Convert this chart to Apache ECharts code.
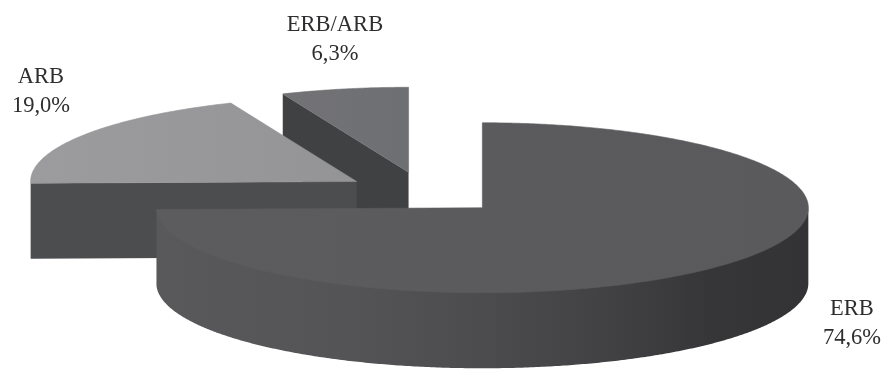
<!DOCTYPE html>
<html>
<head>
<meta charset="utf-8">
<style>html,body{margin:0;padding:0;background:#fff}#chart{width:887px;height:369px}</style>
<script src="https://cdn.jsdelivr.net/npm/echarts@6/dist/echarts.min.js"></script>
</head>
<body>
<div id="chart"></div>
<script>
// Share of each treatment group, in percent
const categories = ['ERB', 'ARB', 'ERB/ARB'];
const shares = [74.6, 19.0, 6.3];

// Pie geometry: centre, ellipse radii, wall height and how far slices are pulled out
const pie = { cx: 424.5, cy: 193, rx: 326, ry: 85, depth: 75.5, explode: 81 };

// Text anchors for the two-line slice labels (centre x, top y)
const labelAnchors = [[852, 295], [41, 63], [335, 11]];

const topFills = [
  ['#5c5c5e', '#5a5a5c'],
  ['#9c9c9f', '#949497'],
  ['#737376', '#6e6f72']
];
const cutFills = ['#505052', '#4c4d4f', '#404143'];
const wallStops = [
  [0, '#59595b'], [0.3, '#545456'], [0.5, '#4c4c4e'], [0.7, '#414143'], [0.85, '#363638'], [1, '#333335']
];

const total = shares.reduce((a, b) => a + b, 0);
const rad = d => d * Math.PI / 180;

// Angles run clockwise from twelve o'clock
function sliceAngles(index) {
  let start = 0;
  for (let i = 0; i < index; i++) start += shares[i] / total * 360;
  return [start, start + shares[index] / total * 360];
}

function rimPoint(apex, deg, drop) {
  return [
    apex[0] + pie.rx * Math.sin(rad(deg)),
    apex[1] - pie.ry * Math.cos(rad(deg)) + drop
  ];
}

function cutFace(apex, deg, fill) {
  const outer = rimPoint(apex, deg, 0);
  return {
    type: 'polygon',
    shape: { points: [apex, outer, [outer[0], outer[1] + pie.depth], [apex[0], apex[1] + pie.depth]] },
    style: { fill: fill }
  };
}

function renderSlice(params) {
  const i = params.dataIndex;
  const [start, end] = sliceAngles(i);
  const mid = rad((start + end) / 2);
  const apex = [
    pie.cx + pie.explode * Math.sin(mid),
    pie.cy - pie.explode * (pie.ry / pie.rx) * Math.cos(mid)
  ];
  const children = [];

  // Radial cuts that face the viewer
  if (Math.cos(rad(start - 90)) < -0.001) children.push(cutFace(apex, start, cutFills[i]));
  if (Math.cos(rad(end + 90)) < -0.001) children.push(cutFace(apex, end, cutFills[i]));

  // Outer wall, front half of the rim only; its upper edge tucks under the top face
  const wallFrom = Math.max(start, 90);
  const wallTo = Math.min(end, 270);
  if (wallTo > wallFrom) {
    const upper = [];
    const lower = [];
    for (let a = wallFrom; a <= wallTo; a += 0.5) {
      upper.push(rimPoint(apex, a, -1.5));
      lower.unshift(rimPoint(apex, a, pie.depth));
    }
    children.push({
      type: 'polygon',
      shape: { points: upper.concat(lower) },
      style: {
        fill: {
          type: 'linear', x: 0, y: 0, x2: 1, y2: 0,
          colorStops: wallStops.map(s => ({ offset: s[0], color: s[1] }))
        }
      }
    });
  }

  // Top face, with a hairline stroke to close the seam against the faces below
  const top = [apex];
  for (let a = start; a < end; a += 0.5) top.push(rimPoint(apex, a, 0));
  top.push(rimPoint(apex, end, 0));
  children.push({
    type: 'polygon',
    shape: { points: top },
    style: {
      stroke: topFills[i][1],
      lineWidth: 0.6,
      fill: {
        type: 'linear', x: 0, y: 0, x2: 1, y2: 0,
        colorStops: [
          { offset: 0, color: topFills[i][0] },
          { offset: 1, color: topFills[i][1] }
        ]
      }
    }
  });

  return { type: 'group', children: children };
}

// Labels sit on their own layer above every slice
function renderLabel(params) {
  const i = params.dataIndex;
  return {
    type: 'text',
    x: labelAnchors[i][0],
    y: labelAnchors[i][1],
    style: {
      text: categories[i] + '\n' + shares[i].toFixed(1).replace('.', ',') + '%',
      font: '22.5px "Liberation Serif", serif',
      lineHeight: 29,
      fill: '#2e2e30',
      align: 'center',
      verticalAlign: 'top'
    }
  };
}

// The smallest slice goes first so the larger ones overlap it
const drawOrder = shares.map((v, i) => i).reverse();

const chart = echarts.init(document.getElementById('chart'), null, { renderer: 'canvas' });
chart.setOption({
  animation: false,
  backgroundColor: '#ffffff',
  series: [
    {
      type: 'custom',
      coordinateSystem: 'none',
      silent: true,
      renderItem: (params) => renderSlice({ dataIndex: drawOrder[params.dataIndex] }),
      data: drawOrder.map(i => shares[i])
    },
    {
      type: 'custom',
      coordinateSystem: 'none',
      silent: true,
      z: 5,
      renderItem: renderLabel,
      data: shares
    }
  ]
});
</script>
</body>
</html>
